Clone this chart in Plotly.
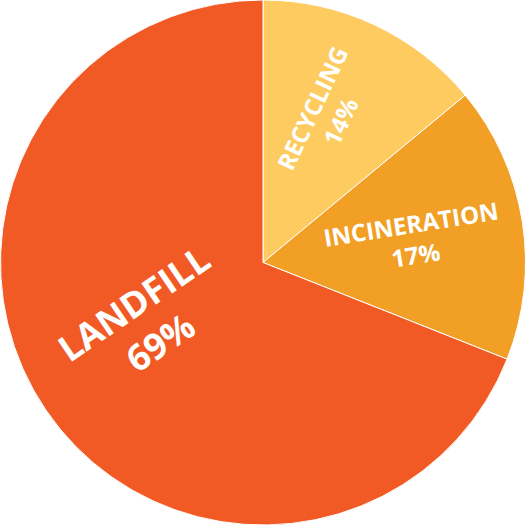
import math
import plotly.graph_objects as go

categories = ["RECYCLING", "INCINERATION", "LANDFILL"]
values = [14, 17, 69]
colors = ["#FDCB5F", "#F19F25", "#F15A24"]
font_sizes = [24, 24, 36]
label_radius = [0.61, 0.58, 0.50]  # fraction of pie radius where label sits
label_frac = [0.46, 0.5, 0.528]    # position of label along each slice's arc

W, H = 526, 525

fig = go.Figure(go.Pie(
    labels=categories,
    values=values,
    sort=False,
    direction="clockwise",
    rotation=0,
    marker=dict(colors=colors, line=dict(color="white", width=1)),
    textinfo="none",
    showlegend=False,
    hoverinfo="label+percent",
))

# radial labels computed from the slice angles
total = sum(values)
cum = 0
R = min(W, H) / 2
cx, cy = W / 2, H / 2
for cat, v, fs, rf, lf in zip(categories, values, font_sizes, label_radius, label_frac):
    mid = (cum + v / 2) / total * 2 * math.pi  # clockwise from 12 o'clock
    pos = (cum + v * lf) / total * 2 * math.pi
    cum += v
    px = cx + math.sin(pos) * R * rf
    py = cy - math.cos(pos) * R * rf
    dx, dy = math.sin(mid), -math.cos(mid)  # screen coords (y down)
    ang = math.degrees(math.atan2(dy, dx))
    if ang > 90:
        ang -= 180
    elif ang < -90:
        ang += 180
    fig.add_annotation(
        x=px / W, y=1 - py / H, xref="paper", yref="paper",
        text=f"{cat}<br>{v}%", showarrow=False, textangle=ang,
        font=dict(family="Open Sans", size=fs, color="white", weight="bold"),
        align="center", xanchor="center", yanchor="middle",
    )

fig.update_layout(
    width=W, height=H,
    margin=dict(l=0, r=0, t=0, b=0),
    paper_bgcolor="white",
    plot_bgcolor="white",
)
fig.write_html("out.html", config={"displayModeBar": False},
               post_script="document.body.style.margin='0';")
